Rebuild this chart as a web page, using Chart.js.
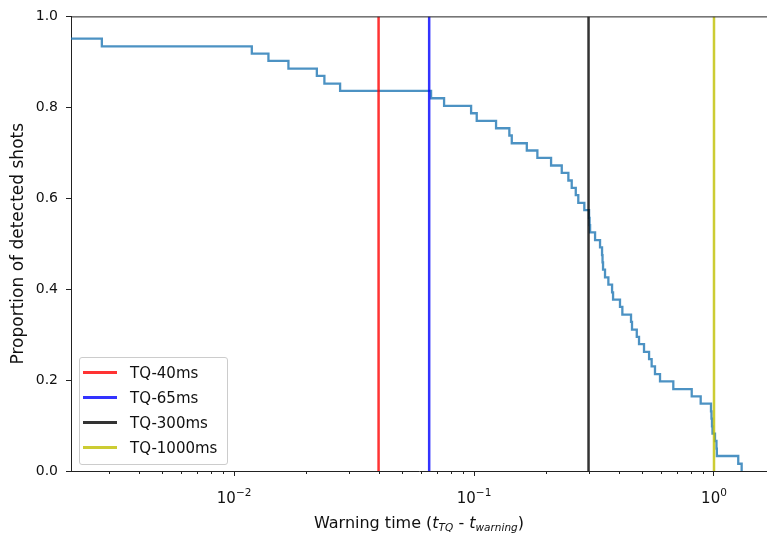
<!DOCTYPE html>
<html>
<head>
<meta charset="utf-8">
<script src="https://cdn.jsdelivr.net/npm/chart.js@4.4.1/dist/chart.umd.min.js"></script>
<style>
  body { margin: 0; background: #fff; font-family: "DejaVu Sans", sans-serif; }
  #wrap { position: relative; width: 767px; height: 540px; overflow: hidden; }
  #legend {
    position: absolute; left: 79px; top: 357px; width: 147px; height: 104px;
    border: 1px solid #cccccc; border-radius: 3px; background: rgba(255, 255, 255, 0.8);
    padding-top: 2px; box-sizing: content-box;
  }
  .row { height: 25px; display: flex; align-items: center; font-size: 15px; color: #111; }
  .swatch { display: inline-block; width: 34px; height: 3px; margin-left: 3px; margin-right: 13px; }
  .xtick {
    position: absolute; top: 489px; width: 60px; margin-left: -30px; text-align: center;
    font-size: 15px; line-height: 18px; color: #111; white-space: nowrap;
  }
  .xtick sup { font-size: 10.5px; vertical-align: 7px; line-height: 0; }
  #xtitle {
    position: absolute; left: 71px; width: 696px; top: 513px; text-align: center;
    font-size: 16px; line-height: 20px; color: #111;
  }
  #xtitle i { font-style: italic; }
  #xtitle sub { font-size: 10.5px; font-style: italic; vertical-align: -3px; line-height: 0; }
</style>
</head>
<body>
<div id="wrap">
  <canvas id="myChart" width="767" height="540"></canvas>
  <div id="legend"></div>
  <div id="xtitle">Warning time (<i>t</i><sub>TQ</sub> - <i>t</i><sub>warning</sub>)</div>
</div>
<script>
"use strict";

// step curve: warning time (s) where the proportion drops, and the level after the drop
const warningTimes = [
  0.00209, 0.00281, 0.01185, 0.01390, 0.01684, 0.02212, 0.02378, 0.02765,
  0.0662, 0.0750, 0.0972, 0.1026, 0.1235, 0.1403, 0.1436, 0.1659,
  0.1836, 0.2094, 0.2320, 0.2472, 0.2553, 0.2654, 0.2719, 0.2881,
  0.3015, 0.3030, 0.3045, 0.3194, 0.3350, 0.3415, 0.3431, 0.3448,
  0.3514, 0.3629, 0.3760, 0.3796, 0.4057, 0.4150, 0.4510, 0.4553,
  0.4766, 0.4870, 0.5109, 0.5363, 0.5497, 0.5676, 0.5957, 0.6767,
  0.8075, 0.8801, 0.9716, 0.9763, 0.9810, 0.9857, 1.0096, 1.024,
  1.028, 1.262, 1.304
];
const detectedProportion = [
  0.951, 0.934, 0.918, 0.902, 0.885, 0.869, 0.852, 0.836,
  0.820, 0.803, 0.787, 0.770, 0.754, 0.738, 0.721, 0.705,
  0.689, 0.672, 0.656, 0.639, 0.623, 0.607, 0.590, 0.574,
  0.557, 0.541, 0.525, 0.508, 0.492, 0.475, 0.459, 0.443,
  0.426, 0.410, 0.393, 0.377, 0.361, 0.344, 0.328, 0.311,
  0.295, 0.279, 0.262, 0.246, 0.230, 0.213, 0.197, 0.180,
  0.164, 0.148, 0.131, 0.115, 0.098, 0.082, 0.066, 0.049,
  0.033, 0.016, 0
];

// vertical threshold lines
const thresholdLabels = ["TQ-40ms", "TQ-65ms", "TQ-300ms", "TQ-1000ms"];
const thresholdTimes = [0.04, 0.065, 0.3, 1.0];
const thresholdColors = [
  "rgba(255, 0, 0, 0.8)",
  "rgba(0, 0, 255, 0.8)",
  "rgba(0, 0, 0, 0.8)",
  "rgba(191, 191, 0, 0.8)"
];

// ticks
const xTickValues = [0.01, 0.1, 1];
const xTickLabels = ["10<sup>&minus;2</sup>", "10<sup>&minus;1</sup>", "10<sup>0</sup>"];
const yTickValues = [0, 0.2, 0.4, 0.6, 0.8, 1.0];
const yTickLabels = ["0.0", "0.2", "0.4", "0.6", "0.8", "1.0"];

const xMin = 0.00209;
const xMax = 1.663;
const axisColor = "#222";

Chart.defaults.font.family = "'DejaVu Sans', sans-serif";
Chart.defaults.color = "#111";

// minor log ticks and the top spine
const axesDecor = {
  id: "axesDecor",
  afterDatasetsDraw(chart) {
    const { ctx, chartArea } = chart;
    const xScale = chart.scales.x;
    ctx.save();
    ctx.strokeStyle = axisColor;
    ctx.lineWidth = 1;
    ctx.beginPath();
    for (let k = -3; k <= 0; k++) {
      for (let m = 2; m <= 9; m++) {
        const v = m * Math.pow(10, k);
        if (v < xMin || v > xMax) continue;
        const px = Math.round(xScale.getPixelForValue(v)) + 0.5;
        ctx.moveTo(px, chartArea.bottom);
        ctx.lineTo(px, chartArea.bottom + 3);
      }
    }
    ctx.moveTo(chartArea.left, chartArea.top + 0.5);
    ctx.lineTo(chartArea.right, chartArea.top + 0.5);
    ctx.stroke();
    ctx.restore();
  }
};

const thresholdSets = thresholdTimes.map((t, i) => ({
  label: thresholdLabels[i],
  data: [{ x: t, y: 0 }, { x: t, y: 1 }],
  borderColor: thresholdColors[i],
  borderWidth: 2.5,
  pointRadius: 0,
  order: 0
}));

const curveSet = {
  label: "detected",
  data: warningTimes.map((t, i) => ({ x: t, y: detectedProportion[i] })),
  stepped: "before",
  borderColor: "rgba(31, 119, 180, 0.8)",
  borderWidth: 2.3,
  pointRadius: 0,
  order: 1
};

const ctx = document.getElementById("myChart").getContext("2d");

const chartInstance = new Chart(ctx, {
  type: "line",
  data: { datasets: [...thresholdSets, curveSet] },
  plugins: [axesDecor],
  options: {
    responsive: false,
    animation: false,
    devicePixelRatio: 1,
    layout: { padding: { top: 14, right: 0, left: 0, bottom: 0 } },
    plugins: {
      legend: { display: false },
      tooltip: { enabled: false }
    },
    scales: {
      x: {
        type: "logarithmic",
        min: xMin,
        max: xMax,
        afterBuildTicks: (scale) => {
          scale.ticks = xTickValues.map(v => ({ value: v }));
        },
        afterFit: (scale) => { scale.height = 69; },
        // labels are placed as html below, so superscripts can be used
        ticks: { autoSkip: false, maxRotation: 0, callback: () => "" },
        grid: { drawOnChartArea: false, tickLength: 5, color: axisColor },
        border: { color: axisColor, width: 1 }
      },
      y: {
        min: 0,
        max: 1,
        afterBuildTicks: (scale) => {
          scale.ticks = yTickValues.map(v => ({ value: v }));
        },
        afterFit: (scale) => { scale.width = 71; },
        ticks: {
          padding: 8,
          font: { size: 14 },
          callback: (value) => yTickLabels[yTickValues.indexOf(value)]
        },
        grid: { drawOnChartArea: false, tickLength: 5, color: axisColor },
        border: { color: axisColor, width: 1 },
        title: {
          display: true,
          text: "Proportion of detected shots",
          font: { size: 17 },
          padding: { top: 8, bottom: 0 }
        }
      }
    }
  }
});

// x tick labels at the positions given by the log scale
function buildXTicks() {
  const xScale = chartInstance.scales.x;
  let htmlString = "";
  xTickValues.forEach((v, i) => {
    const px = xScale.getPixelForValue(v);
    htmlString += `<div class="xtick" style="left:${px}px">${xTickLabels[i]}</div>`;
  });
  document.getElementById("wrap").insertAdjacentHTML("beforeend", htmlString);
}

// legend in the lower left corner of the plot
function buildLegend() {
  let htmlString = "";
  thresholdLabels.forEach((label, i) => {
    htmlString += `<div class="row"><span class="swatch" style="background:${thresholdColors[i]}"></span>${label}</div>`;
  });
  document.getElementById("legend").insertAdjacentHTML("afterbegin", htmlString);
}

buildXTicks();
buildLegend();
</script>
</body>
</html>
